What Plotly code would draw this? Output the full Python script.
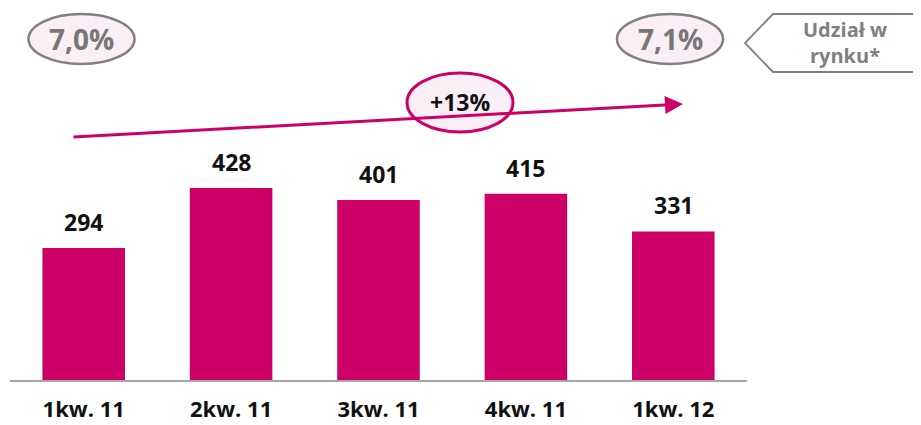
import plotly.graph_objects as go

categories = ["1kw. 11", "2kw. 11", "3kw. 11", "4kw. 11", "1kw. 12"]
values = [294, 428, 401, 415, 331]
share_start = "7,0%"
share_end = "7,1%"
growth_label = "+13%"
callout_lines = ["Udział w", "rynku*"]

# page body has an 8px margin, so the figure is drawn 8px smaller
OFF = 8
W, H = 921 - OFF, 425 - OFF
L, R, T, B = 10 - OFF, 174, 21 - OFF, 45
PW, PH = W - L - R, H - T - B

def px(x):  # reference pixel -> paper
    return (x - OFF - L) / PW

def py(y):
    return (H - B - (y - OFF)) / PH

MAG = "#CC0066"
GREY = "#808080"
PINK = "#F9EFF4"
FONT = "Open Sans"

fig = go.Figure()
fig.add_trace(go.Bar(
    x=categories, y=values, marker_color=MAG, marker_line_width=0,
    width=0.56, hoverinfo="skip",
))

annotations = []
for c, v in zip(categories, values):
    annotations.append(dict(
        x=c, y=v, xref="x", yref="y", text=f"<b>{v}</b>", showarrow=False,
        yshift=26, xanchor="center", yanchor="middle",
        font=dict(family=FONT, size=23, color="#111111"),
    ))

shapes = []
# share ovals
for (cx, cy), label in [((81.5, 39), share_start), ((670, 39), share_end)]:
    shapes.append(dict(type="circle", xref="paper", yref="paper",
                       x0=px(cx - 53), x1=px(cx + 53), y0=py(cy + 25), y1=py(cy - 25),
                       fillcolor=PINK, line=dict(color=GREY, width=2.5), layer="above"))
    annotations.append(dict(x=px(cx), y=py(cy), xref="paper", yref="paper",
                            xanchor="center", yanchor="middle",
                            text=f"<b>{label}</b>", showarrow=False,
                            font=dict(family=FONT, size=28, color="#777777")))

# growth arrow
annotations.append(dict(x=px(683), y=py(104), xref="paper", yref="paper",
                        ax=72 - 683, ay=137 - 104, axref="pixel", ayref="pixel",
                        text="", showarrow=True, arrowhead=2, arrowsize=1.2,
                        arrowwidth=3, arrowcolor=MAG))
shapes.append(dict(type="circle", xref="paper", yref="paper",
                   x0=px(407), x1=px(513), y0=py(132), y1=py(73),
                   fillcolor=PINK, line=dict(color=MAG, width=3), layer="above"))
annotations.append(dict(x=px(460), y=py(102), xref="paper", yref="paper",
                        xanchor="center", yanchor="middle",
                        text=f"<b>{growth_label}</b>", showarrow=False,
                        font=dict(family=FONT, size=23, color="#111111")))

# callout box
path = (f"M {px(930)},{py(14)} L {px(773)},{py(14)} L {px(745)},{py(43)} "
        f"L {px(773)},{py(72)} L {px(930)},{py(72)}")
shapes.append(dict(type="path", xref="paper", yref="paper", path=path,
                   line=dict(color=GREY, width=1.8)))
for i, t in enumerate(callout_lines):
    annotations.append(dict(x=px(845), y=py(29 + 27 * i), xref="paper", yref="paper",
                            xanchor="center", yanchor="middle",
                            text=f"<b>{t}</b>", showarrow=False,
                            font=dict(family=FONT, size=20, color="#7F7F7F")))

fig.update_layout(
    width=W, height=H, margin=dict(l=L, r=R, t=T, b=B, autoexpand=False),
    paper_bgcolor="white", plot_bgcolor="white", showlegend=False,
    bargap=0.44, shapes=shapes, annotations=annotations,
    xaxis=dict(showline=True, linecolor="#A6A6A6", linewidth=2, ticks="",
               showgrid=False, zeroline=False, automargin=False,
               tickfont=dict(family=FONT, size=22, color="#111111"),
               ticklabelstandoff=9),
    yaxis=dict(range=[0, 800], visible=False, showgrid=False, zeroline=False,
               automargin=False),
)
fig.update_xaxes(tickvals=categories, ticktext=[f"<b>{c}</b>" for c in categories])

fig.write_html("out.html")
